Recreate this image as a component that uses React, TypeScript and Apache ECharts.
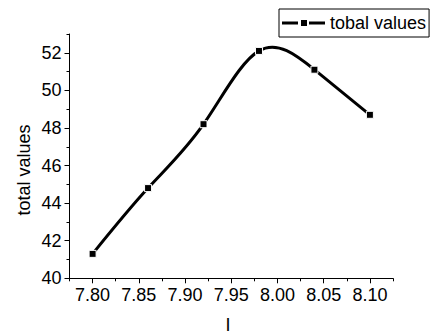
import React, { useEffect, useRef } from "react";
import * as echarts from "echarts";

const xValues = [7.8, 7.86, 7.92, 7.98, 8.04, 8.1];
const yValues = [41.3, 44.8, 48.2, 52.1, 51.1, 48.7];
const xMajorTicks = [7.8, 7.85, 7.9, 7.95, 8.0, 8.05, 8.1];
const xMinorTicks = [7.775, 7.825, 7.875, 7.925, 7.975, 8.025, 8.075, 8.125];
const yMajorTicks = [40, 42, 44, 46, 48, 50, 52];
const yMinorTicks = [41, 43, 45, 47, 49, 51, 53];
const seriesName = "tobal values";
const yTitle = "total values";
const xTitle = "I";

const FONT = "'Liberation Sans', Arial, sans-serif";

// natural cubic spline slopes at each knot (drawing helper, not data)
function splineSlopes(xs: number[], ys: number[]): number[] {
  const n = xs.length;
  const h: number[] = [];
  for (let i = 0; i < n - 1; i++) h.push(xs[i + 1] - xs[i]);
  const M = new Array(n).fill(0);
  if (n > 2) {
    const a: number[] = [], b: number[] = [], c: number[] = [], d: number[] = [];
    for (let i = 1; i < n - 1; i++) {
      a.push(h[i - 1]);
      b.push(2 * (h[i - 1] + h[i]));
      c.push(h[i]);
      d.push(6 * ((ys[i + 1] - ys[i]) / h[i] - (ys[i] - ys[i - 1]) / h[i - 1]));
    }
    const m = b.length;
    for (let i = 1; i < m; i++) {
      const w = a[i] / b[i - 1];
      b[i] -= w * c[i - 1];
      d[i] -= w * d[i - 1];
    }
    const sol = new Array(m).fill(0);
    sol[m - 1] = d[m - 1] / b[m - 1];
    for (let i = m - 2; i >= 0; i--) sol[i] = (d[i] - c[i] * sol[i + 1]) / b[i];
    for (let i = 0; i < m; i++) M[i + 1] = sol[i];
  }
  const s: number[] = [];
  for (let i = 0; i < n - 1; i++) {
    s.push((ys[i + 1] - ys[i]) / h[i] - (h[i] * (2 * M[i] + M[i + 1])) / 6);
  }
  const k = n - 2;
  s.push((ys[k + 1] - ys[k]) / h[k] + (h[k] * (M[k] + 2 * M[k + 1])) / 6);
  return s;
}

export default function App() {
  const ref = useRef<HTMLDivElement>(null);
  useEffect(() => {
    if (!ref.current) return;
    const chart = echarts.init(ref.current, null, { renderer: "svg" });
    const slopes = splineSlopes(xValues, yValues);
    const points = xValues.map((x, i) => [x, yValues[i]]);
    chart.setOption({
      animation: false,
      backgroundColor: "#fff",
      grid: { left: 69.5, right: 43, top: 34, bottom: 52.7 },
      legend: {
        left: 279,
        top: 9,
        padding: [5, 3, 5, 3],
        borderColor: "#000",
        borderWidth: 1,
        backgroundColor: "#fff",
        itemWidth: 43,
        itemHeight: 6,
        itemStyle: { color: "#000" },
        textStyle: { fontSize: 18, color: "#000", fontFamily: FONT },
        data: [
          {
            name: seriesName,
            icon: "path://M0,1.5h16v3h-16z M19,0h6v6h-6z M27,1.5h16v3h-16z",
          },
        ],
      },
      xAxis: [
        {
          type: "value",
          min: 7.775,
          max: 8.125,
          position: "bottom",
          axisLine: { show: true, lineStyle: { color: "#000", width: 1 } },
          axisTick: { show: true, inside: false, length: 5, customValues: xMajorTicks, lineStyle: { color: "#000" } },
          axisLabel: {
            customValues: xMajorTicks,
            formatter: (v: number) => v.toFixed(2),
            fontSize: 18,
            color: "#000",
            fontFamily: FONT,
            margin: 8,
          },
          splitLine: { show: false },
        },
        {
          type: "value",
          min: 7.775,
          max: 8.125,
          position: "bottom",
          axisLine: { show: false },
          axisTick: { show: true, inside: false, length: 3, customValues: xMinorTicks, lineStyle: { color: "#000" } },
          axisLabel: { show: false },
          splitLine: { show: false },
        },
      ],
      yAxis: [
        {
          type: "value",
          min: 40,
          max: 53,
          position: "left",
          axisLine: { show: true, lineStyle: { color: "#000", width: 1 } },
          axisTick: { show: true, inside: false, length: 5, customValues: yMajorTicks, lineStyle: { color: "#000" } },
          axisLabel: {
            customValues: yMajorTicks,
            fontSize: 18,
            color: "#000",
            fontFamily: FONT,
            margin: 8,
          },
          splitLine: { show: false },
        },
        {
          type: "value",
          min: 40,
          max: 53,
          position: "left",
          axisLine: { show: false },
          axisTick: { show: true, inside: false, length: 3, customValues: yMinorTicks, lineStyle: { color: "#000" } },
          axisLabel: { show: false },
          splitLine: { show: false },
        },
      ],
      graphic: [
        {
          type: "text",
          x: 24,
          y: 170,
          rotation: Math.PI / 2,
          style: {
            text: yTitle,
            fontSize: 18,
            fontFamily: FONT,
            fill: "#000",
            align: "center",
            verticalAlign: "middle",
          },
        },
        {
          type: "text",
          x: 228,
          y: 316,
          style: {
            text: xTitle,
            fontSize: 18,
            fontFamily: FONT,
            fill: "#000",
            align: "center",
            verticalAlign: "top",
          },
        },
      ],
      series: [
        {
          name: seriesName,
          type: "custom",
          xAxisIndex: 0,
          yAxisIndex: 0,
          data: points,
          encode: { x: 0, y: 1 },
          itemStyle: { color: "#000" },
          z: 2,
          renderItem: (params: any, api: any) => {
            if (params.dataIndex !== 0) return null;
            const p0 = api.coord([xValues[0], yValues[0]]);
            let d = `M${p0[0]},${p0[1]}`;
            for (let i = 0; i < xValues.length - 1; i++) {
              const h = xValues[i + 1] - xValues[i];
              const c1 = api.coord([xValues[i] + h / 3, yValues[i] + (h / 3) * slopes[i]]);
              const c2 = api.coord([xValues[i + 1] - h / 3, yValues[i + 1] - (h / 3) * slopes[i + 1]]);
              const p = api.coord([xValues[i + 1], yValues[i + 1]]);
              d += ` C${c1[0]},${c1[1]} ${c2[0]},${c2[1]} ${p[0]},${p[1]}`;
            }
            return {
              type: "path",
              shape: { pathData: d },
              style: { stroke: "#000", lineWidth: 3, fill: "none" },
            };
          },
        },
        {
          name: seriesName,
          type: "scatter",
          xAxisIndex: 0,
          yAxisIndex: 0,
          data: points,
          symbol: "rect",
          symbolSize: 7,
          z: 3,
          itemStyle: { color: "#000", borderColor: "#fff", borderWidth: 1, opacity: 1 },
        },
      ],
    });
    return () => chart.dispose();
  }, []);
  return <div ref={ref} style={{ width: 436, height: 331, position: "absolute", left: 0, top: 0 }} />;
}
